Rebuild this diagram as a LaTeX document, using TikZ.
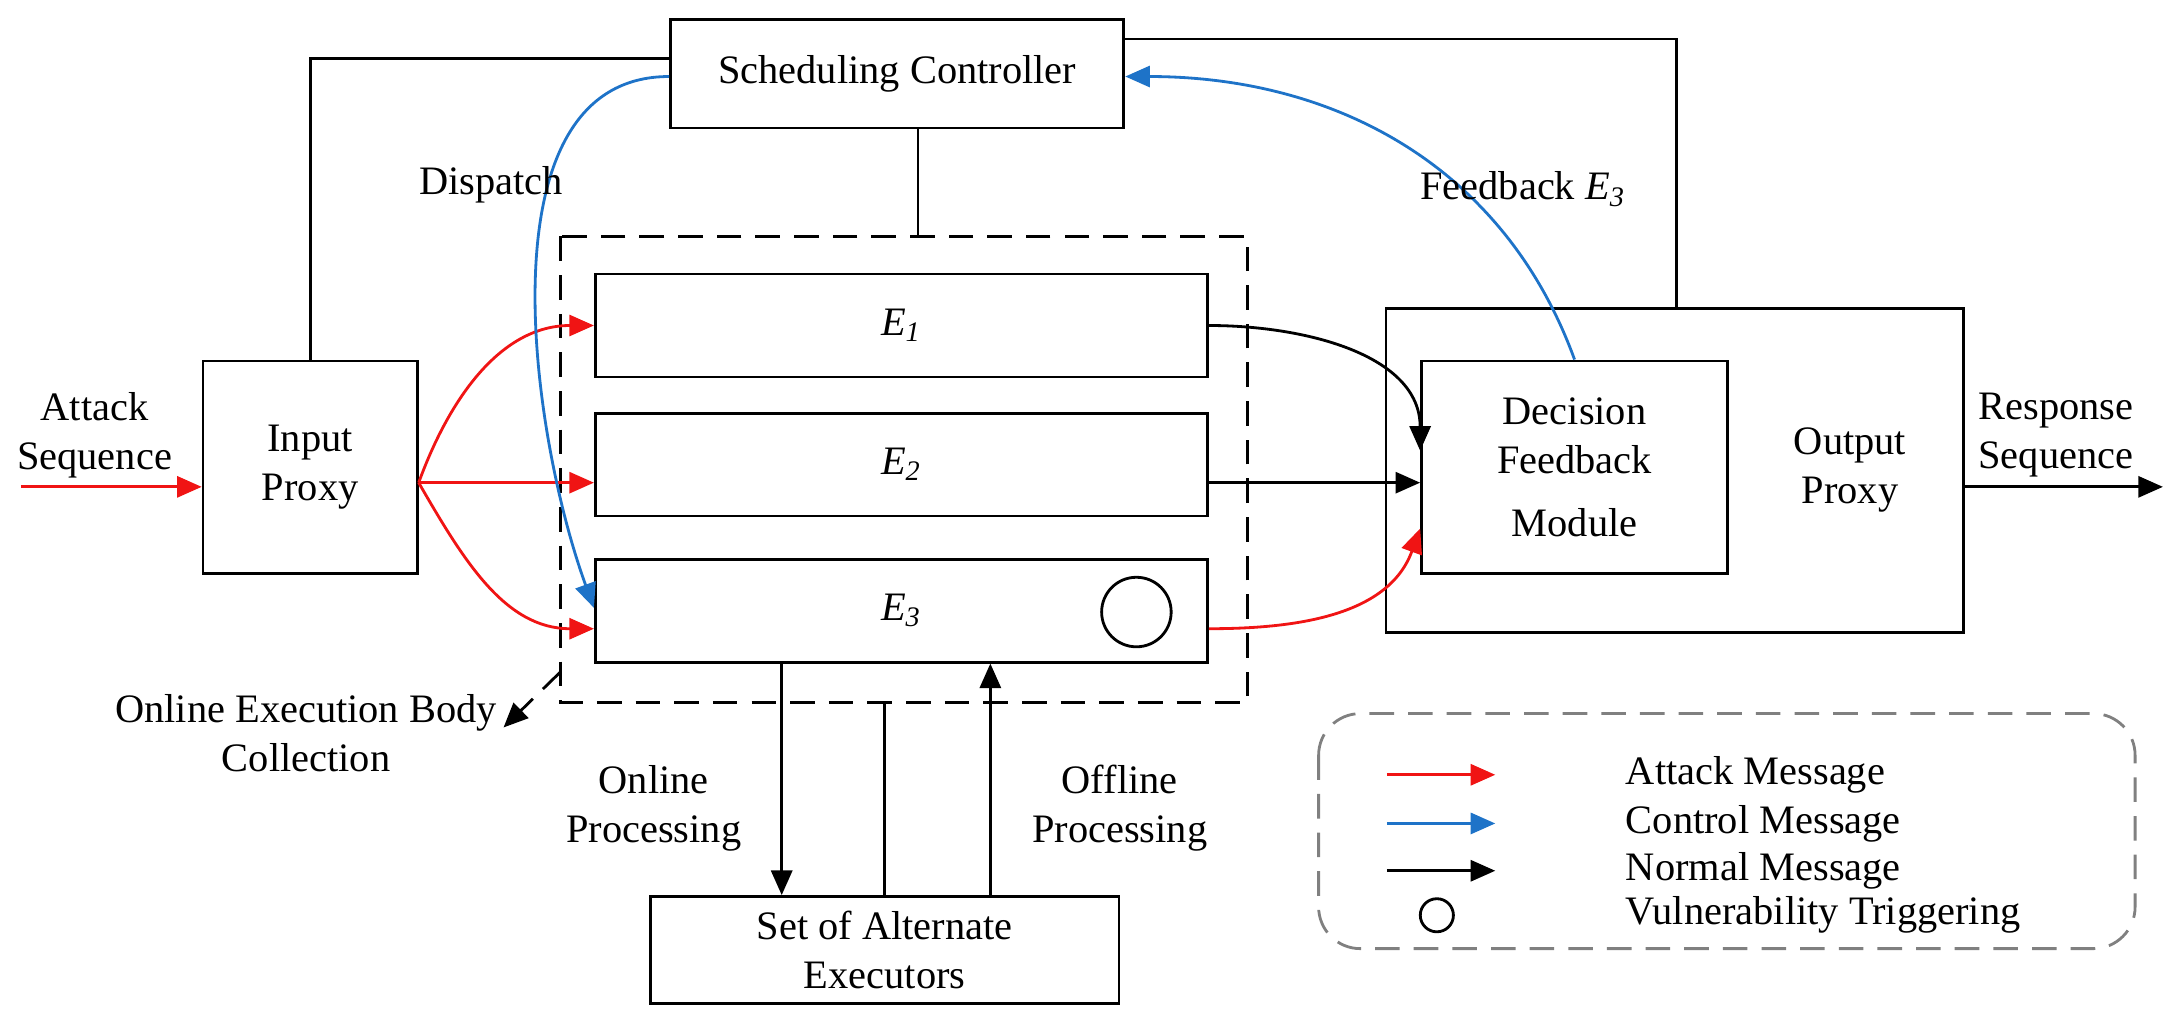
\documentclass[tikz,border=0pt]{standalone}
\usepackage{fontspec}
\setmainfont{Liberation Serif}
\usetikzlibrary{arrows.meta, calc}
\definecolor{atk}{RGB}{240,20,20}
\definecolor{ctl}{RGB}{30,115,200}
\begin{document}
\begin{tikzpicture}[x=0.01391cm, y=-0.01391cm, font=\fontsize{11.5}{14}\selectfont]
    \tikzstyle{box} = [draw, thick, inner sep=0pt, align=center]
    \tikzstyle{longdash} = [dash pattern=on 7pt off 4pt]
    \tikzstyle{attack} = [draw=atk, thick, -{Triangle[length=7pt,width=6pt]}]
    \tikzstyle{control} = [draw=ctl, thick, -{Triangle[length=7pt,width=6pt]}]
    \tikzstyle{normal} = [draw=black, thick, -{Triangle[length=7pt,width=6pt]}]
    \useasboundingbox (0,0) rectangle (1568,735);

    % Blocks ----------------------------------------
    \node (sched) at (645,53) [box, minimum width=326*0.01391cm, minimum height=78*0.01391cm] {Scheduling Controller};
    \draw[thick, longdash] (403,170) rectangle (897,505);
    \node (E1) at (648,234) [box, minimum width=440*0.01391cm, minimum height=74*0.01391cm] {\textit{E\textsubscript{1}}};
    \node (E2) at (648,334) [box, minimum width=440*0.01391cm, minimum height=74*0.01391cm] {\textit{E\textsubscript{2}}};
    \node (E3) at (648,439) [box, minimum width=440*0.01391cm, minimum height=74*0.01391cm] {\textit{E\textsubscript{3}}};
    \node (vuln) at (817,440) [draw, thick, circle, minimum size=50*0.01391cm] {};
    \node (in) at (223,336) [box, minimum width=154*0.01391cm, minimum height=153*0.01391cm] {Input\\Proxy};
    \node (out) at (1204,338) [box, minimum width=415*0.01391cm, minimum height=233*0.01391cm] {};
    \node (dfm) at (1132,336) [box, minimum width=220*0.01391cm, minimum height=153*0.01391cm] {Decision\\Feedback\\[4pt]Module};
    \node at (1330,338) [align=center] {Output\\Proxy};
    \node (alt) at (636,683) [box, minimum width=337*0.01391cm, minimum height=77*0.01391cm] {Set of Alternate\\Executors};

    % Coordinates
    \coordinate (atkin) at (15,350);
    \coordinate (respout) at (1555,350);
    \coordinate (corner) at (403,483);
    \coordinate (obc) at (362,523);

    % Normal links ----------------------------------
    \draw[thick] (in.north) -- (223,42) -- (sched.west |- 0,42);
    \draw[thick] (sched.east |- 0,28) -- (1205,28) -- (out.north -| 1205,0);
    \draw[thick] (sched.south -| 660,0) -- (660,170);
    \draw[normal] (E1.east) to[out=0, in=90] ($(dfm.west)+(0,-12)$);
    \draw[normal] (E2.east |- 0,347) -- (dfm.west |- 0,347);
    \draw[attack] (E3.east |- 0,452) to[out=0, in=-110] (dfm.west |- 0,380);
    \draw[normal] (out.east |- 0,350) -- (respout);
    \draw[normal] (E3.south -| 562,0) -- (alt.north -| 562,0);
    \draw[thick] (636,505) -- (alt.north -| 636,0);
    \draw[normal] (alt.north -| 712,0) -- (E3.south -| 712,0);
    \draw[normal, longdash] (corner) -- (obc);

    % Attack links ----------------------------------
    \draw[attack] (atkin) -- (in.west |- 0,350);
    \draw[attack] (in.east |- 0,347) to[out=70, in=180] (E1.west);
    \draw[attack] (in.east |- 0,347) -- (E2.west |- 0,347);
    \draw[attack] (in.east |- 0,347) to[out=-60, in=180] (E3.west |- 0,452);

    % Control links ---------------------------------
    \draw[control] (sched.west |- 0,55) to[out=180, in=110, looseness=0.9] (E3.west |- 0,437);
    \draw[control] (dfm.north) to[out=110, in=0] (sched.east |- 0,55);

    % Labels ----------------------------------------
    \node at (68,313) [align=center] {Attack\\Sequence};
    \node at (1478,313) [align=center] {Response\\Sequence};
    \node at (353,133) {Dispatch};
    \node at (1095,136) {Feedback \textit{E\textsubscript{3}}};
    \node at (220,527) [align=center] {Online Execution Body\\Collection};
    \node at (470,581) [align=center] {Online\\Processing};
    \node at (805,581) [align=center] {Offline\\Processing};

    % Legend ----------------------------------------
    \draw[thick, longdash, gray, rounded corners=30*0.01391cm] (948,513) rectangle (1535,682);
    \coordinate (l1a) at (997,557); \coordinate (l1b) at (1075,557);
    \coordinate (l2a) at (997,592); \coordinate (l2b) at (1075,592);
    \coordinate (l3a) at (997,626); \coordinate (l3b) at (1075,626);
    \draw[attack] (l1a) -- (l1b);
    \draw[control] (l2a) -- (l2b);
    \draw[normal] (l3a) -- (l3b);
    \node (lc) at (1033,658) [draw, thick, circle, minimum size=18*0.01391cm] {};
    \node at (1160,557) [right] {Attack Message};
    \node at (1160,592) [right] {Control Message};
    \node at (1160,626) [right] {Normal Message};
    \node at (1160,658) [right] {Vulnerability Triggering};
\end{tikzpicture}
\end{document}
